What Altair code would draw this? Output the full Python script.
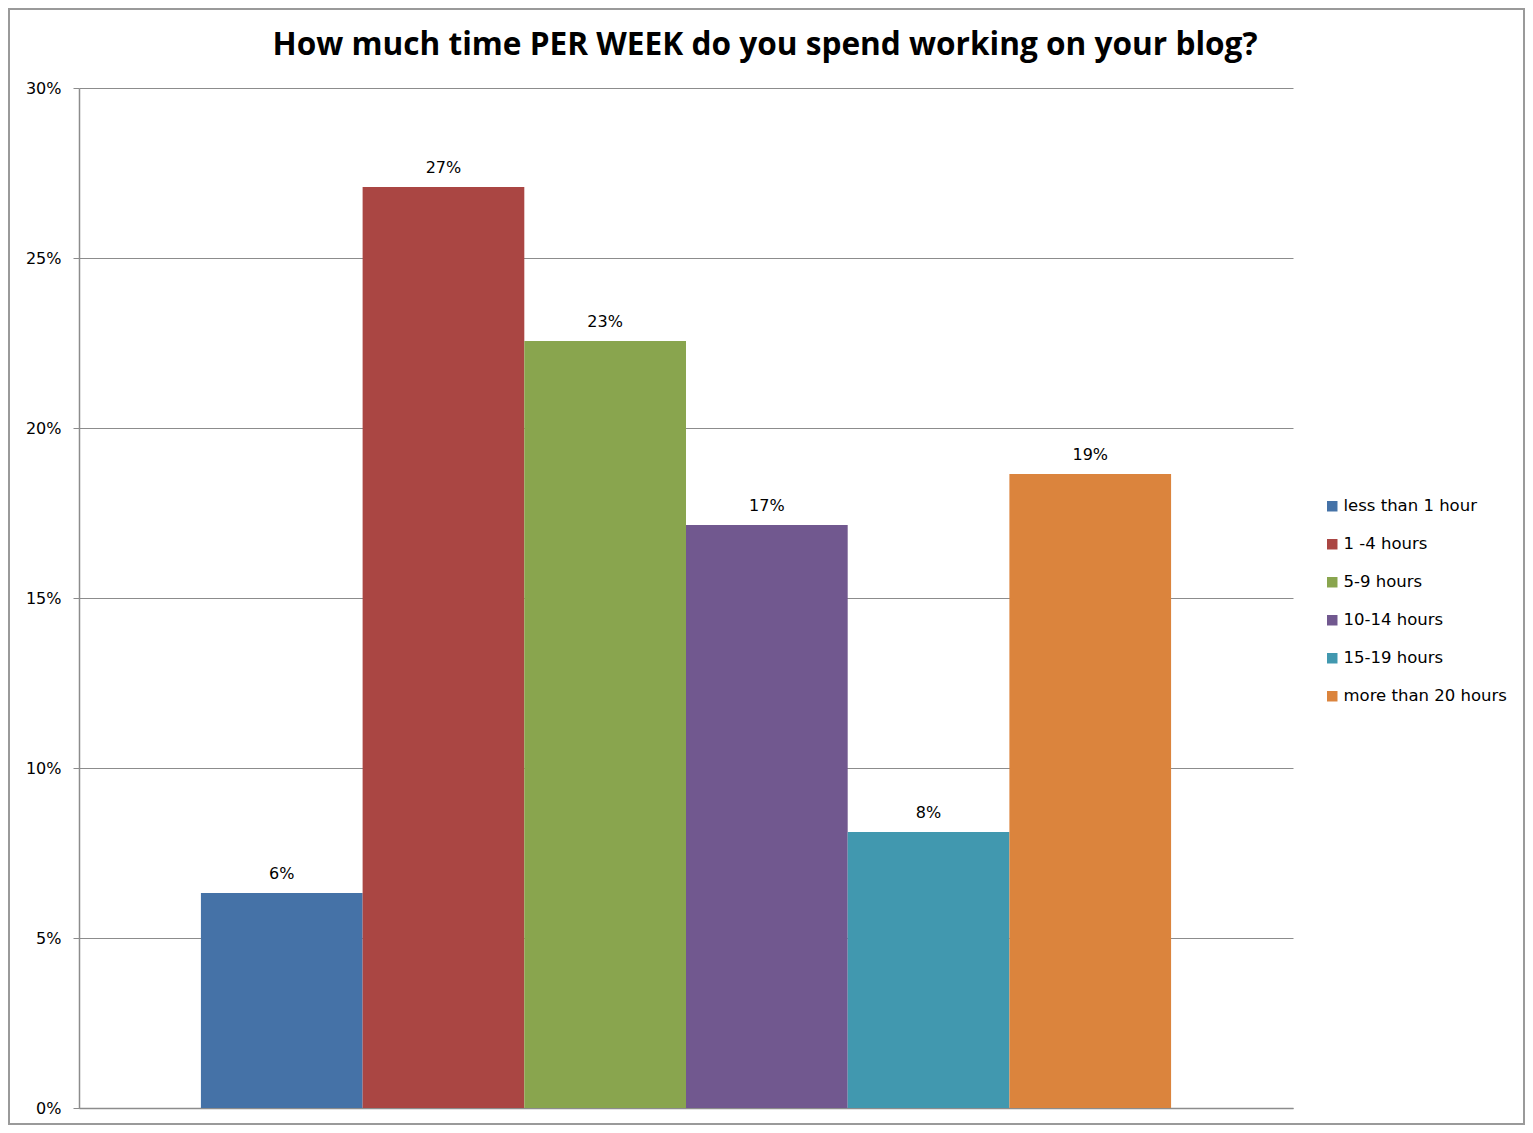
import altair as alt
import pandas as pd

categories = ["less than 1 hour", "1 -4 hours", "5-9 hours", "10-14 hours", "15-19 hours", "more than 20 hours"]
values = [0.0632, 0.2709, 0.2256, 0.1715, 0.0812, 0.1865]
colors = ["#4572a7", "#aa4643", "#89a54e", "#71588f", "#4198af", "#db843d"]
y_ticks = [0, 0.05, 0.10, 0.15, 0.20, 0.25, 0.30]
title_text = "How much time PER WEEK do you spend working on your blog?"

df = pd.DataFrame({"cat": categories, "val": values})

W, H = 1214, 1020
PAD = {"left": 71, "top": 80, "right": 232, "bottom": 17}

x_enc = alt.X("cat:N", sort=categories,
              scale=alt.Scale(paddingInner=0, paddingOuter=0.754),
              axis=alt.Axis(title=None, labels=False, ticks=False, domain=True, grid=False,
                            domainColor="#8c8c8c", domainWidth=1.5))
y_enc = alt.Y("val:Q", scale=alt.Scale(domain=[0, 0.3], nice=False),
              axis=alt.Axis(title=None, values=y_ticks, format=".0%",
                            tickSize=6, tickColor="#8c8c8c", labelPadding=12,
                            domainColor="#8c8c8c", domainWidth=1.5,
                            gridColor="#8c8c8c", gridWidth=1,
                            labelFont="DejaVu Sans", labelFontSize=16, labelColor="#000"))

bars = alt.Chart(df).mark_bar(strokeWidth=0).encode(
    x=x_enc, y=y_enc,
    color=alt.Color("cat:N", sort=categories,
                    scale=alt.Scale(domain=categories, range=colors),
                    legend=alt.Legend(title=None, orient="none", legendX=1245, legendY=410,
                                      symbolType="square", symbolSize=110, symbolStrokeWidth=0,
                                      labelFont="DejaVu Sans", labelFontSize=16.5, labelColor="#000",
                                      labelLimit=400, rowPadding=21, labelOffset=3, padding=0)),
)

text = alt.Chart(df).mark_text(baseline="bottom", dy=-11, font="DejaVu Sans", fontSize=16, color="#000").encode(
    x=alt.X("cat:N", sort=categories), y=alt.Y("val:Q"),
    text=alt.Text("val:Q", format=".0%"),
)

frame = alt.Chart(pd.DataFrame({"a": [0]})).mark_rect(fillOpacity=0, stroke="#9a9a9a", strokeWidth=2).encode(
    x=alt.value(-70), x2=alt.value(W + PAD["right"] - 1), y=alt.value(-79), y2=alt.value(H + PAD["bottom"] - 1),
)

title = alt.Chart(pd.DataFrame({"t": [title_text]})).mark_text(
    font="Open Sans", fontSize=31.6, fontWeight="bold", color="#000", baseline="alphabetic", align="center"
).encode(text="t:N", x=alt.value(686), y=alt.value(-33))

chart = alt.layer(frame, bars, text, title).properties(
    width=W, height=H,
    padding=PAD,
    background="white",
    autosize=alt.AutoSizeParams(type="none"),
).configure_view(strokeWidth=0)

chart.save("out.html", embed_options={"renderer": "svg", "actions": False})
